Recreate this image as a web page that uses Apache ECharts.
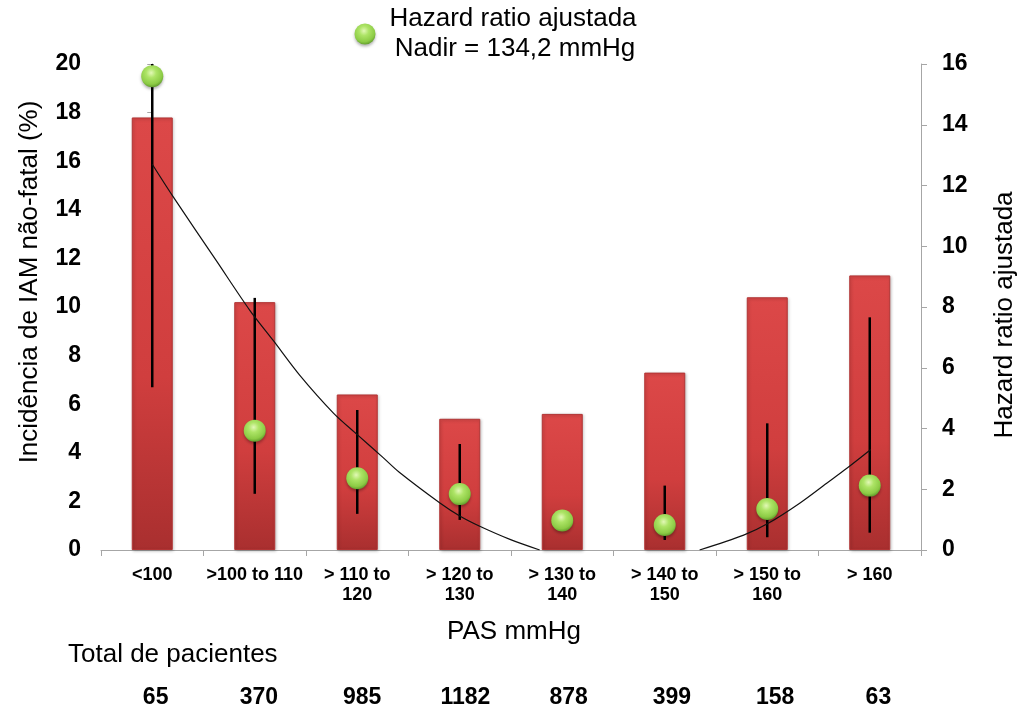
<!DOCTYPE html>
<html>
<head>
<meta charset="utf-8">
<script src="https://cdn.jsdelivr.net/npm/echarts@6/dist/echarts.min.js"></script>
<style>
  html, body { margin: 0; padding: 0; background: #ffffff; }
  #chart { width: 1020px; height: 713px; }
</style>
</head>
<body>
<div id="chart"></div>
<script>
// Systolic pressure groups (PAS mmHg)
const categories = ['<100', '>100 to 110', '> 110 to\n120', '> 120 to\n130', '> 130 to\n140', '> 140 to\n150', '> 150 to\n160', '> 160'];
// Non-fatal MI incidence (%), left axis
const incidence = [17.8, 10.2, 6.4, 5.4, 5.6, 7.3, 10.4, 11.3];
// Adjusted hazard ratio with its confidence limits, right axis
const hazardRatio = [15.6, 3.93, 2.36, 1.84, 0.97, 0.82, 1.35, 2.12];
const ciLower = [5.36, 1.85, 1.19, 0.99, null, 0.33, 0.42, 0.57];
const ciUpper = [16.0, 8.3, 4.61, 3.49, null, 2.12, 4.17, 7.66];
// Patients per group
const patients = [65, 370, 985, 1182, 878, 399, 158, 63];
// Fitted hazard-ratio trend (group position, HR); the part below 0 is not shown
const trendLeftPos = [0, 0.2, 0.63, 0.95, 1.18, 1.44, 1.77, 2.0, 2.25, 2.41, 2.81, 3.0, 3.19, 3.49, 3.78];
const trendLeftHR = [12.7, 11.65, 9.5, 7.9, 6.9, 5.75, 4.5, 3.8, 3.05, 2.56, 1.54, 1.12, 0.79, 0.35, 0];
const trendRightPos = [5.34, 5.77, 6.01, 6.32, 6.58, 6.78, 7.01];
const trendRightHR = [0, 0.49, 0.88, 1.55, 2.2, 2.7, 3.31];

const FONT = '"Liberation Sans", Arial, sans-serif';
const axisGrey = '#a6a6a6';

function greenBall() {
  return {
    type: 'radial', x: 0.45, y: 0.35, r: 0.65,
    colorStops: [
      { offset: 0, color: '#e2f8b6' },
      { offset: 0.35, color: '#ade466' },
      { offset: 0.8, color: '#8ccb45' },
      { offset: 1, color: '#649f2e' }
    ]
  };
}

const chart = echarts.init(document.getElementById('chart'), null, { renderer: 'canvas' });

chart.setOption({
  animation: false,
  backgroundColor: '#ffffff',
  textStyle: { fontFamily: FONT },
  grid: [
    { left: 101, right: 99, top: 64, bottom: 163 },
    { left: 104, right: 90, top: 600, bottom: 27 }
  ],
  xAxis: [
    {
      type: 'category', gridIndex: 0, data: categories,
      axisLine: { lineStyle: { color: axisGrey, width: 1 } },
      axisTick: { show: true, length: 6, lineStyle: { color: axisGrey } },
      axisLabel: {
        interval: 0, margin: 15, color: '#000', fontWeight: 'bold',
        fontSize: 18, lineHeight: 20, fontFamily: FONT
      },
      splitLine: { show: false }
    },
    {
      type: 'value', gridIndex: 0, min: -0.5, max: 7.5, show: false
    },
    {
      type: 'category', gridIndex: 1, data: patients.map(String),
      axisLine: { show: false }, axisTick: { show: false },
      axisLabel: {
        interval: 0, margin: 0, color: '#000', fontWeight: 'bold', fontSize: 23,
        fontFamily: FONT
      }
    }
  ],
  yAxis: [
    {
      type: 'value', gridIndex: 0, min: 0, max: 20, interval: 2,
      axisLine: { show: true, lineStyle: { color: axisGrey, width: 1 } },
      axisTick: { show: true, length: 5, lineStyle: { color: axisGrey } },
      axisLabel: { color: '#000', fontWeight: 'bold', fontSize: 23, margin: 20, fontFamily: FONT },
      splitLine: { show: false }
    },
    {
      type: 'value', gridIndex: 0, min: 0, max: 16, interval: 2, position: 'right',
      axisLine: { show: true, lineStyle: { color: axisGrey, width: 1 } },
      axisTick: { show: true, length: 6, lineStyle: { color: axisGrey } },
      axisLabel: { color: '#000', fontWeight: 'bold', fontSize: 23, margin: 21, fontFamily: FONT },
      splitLine: { show: false }
    },
    { type: 'value', gridIndex: 1, show: false }
  ],
  series: [
    {
      name: 'Incidência',
      type: 'bar', xAxisIndex: 0, yAxisIndex: 0, z: 2,
      barWidth: 41,
      data: incidence,
      itemStyle: {
        color: {
          type: 'linear', x: 0, y: 0, x2: 0, y2: 1,
          colorStops: [
            { offset: 0, color: '#dc4848' },
            { offset: 0.6, color: '#d03e3e' },
            { offset: 1, color: '#a92f2f' }
          ]
        },
        borderColor: '#b23434', borderWidth: 1,
        shadowColor: 'rgba(0,0,0,0.25)', shadowBlur: 3, shadowOffsetX: 1, shadowOffsetY: 1
      }
    },
    {
      name: 'IC',
      type: 'custom', xAxisIndex: 0, yAxisIndex: 1, z: 3,
      encode: { x: 0, y: [1, 2] },
      data: categories.map((c, i) => [i, ciLower[i], ciUpper[i]]).filter(d => d[1] != null),
      renderItem: function (params, api) {
        const a = api.coord([api.value(0), api.value(1)]);
        const b = api.coord([api.value(0), api.value(2)]);
        return {
          type: 'line',
          shape: { x1: a[0], y1: a[1], x2: b[0], y2: b[1] },
          style: { stroke: '#000', lineWidth: 2.5 }
        };
      }
    },
    {
      name: 'Tendência',
      type: 'line', xAxisIndex: 1, yAxisIndex: 1, z: 4,
      data: trendLeftPos.map((p, i) => [p, trendLeftHR[i]]),
      smooth: 0.3, showSymbol: false, clip: true,
      lineStyle: { color: '#111', width: 1.2 }
    },
    {
      name: 'Tendência',
      type: 'line', xAxisIndex: 1, yAxisIndex: 1, z: 4,
      data: trendRightPos.map((p, i) => [p, trendRightHR[i]]),
      smooth: 0.3, showSymbol: false, clip: true,
      lineStyle: { color: '#111', width: 1.2 }
    },
    {
      name: 'Hazard ratio ajustada',
      type: 'scatter', xAxisIndex: 0, yAxisIndex: 1, z: 5,
      data: hazardRatio,
      symbol: 'circle', symbolSize: 22,
      itemStyle: {
        color: greenBall(), opacity: 1,
        shadowColor: 'rgba(0,0,0,0.3)', shadowBlur: 3, shadowOffsetY: 2
      }
    },
    {
      name: 'Total de pacientes',
      type: 'bar', xAxisIndex: 2, yAxisIndex: 2, data: patients.map(() => 0), silent: true
    }
  ],
  graphic: [
    {
      type: 'circle', x: 365, y: 34, shape: { r: 10.5 },
      style: { fill: greenBall(), shadowColor: 'rgba(0,0,0,0.3)', shadowBlur: 3, shadowOffsetY: 2 }
    },
    {
      type: 'text', x: 513, y: 19,
      style: { text: 'Hazard ratio ajustada', font: '26px ' + FONT, fill: '#000', align: 'center', verticalAlign: 'middle' }
    },
    {
      type: 'text', x: 515, y: 49,
      style: { text: 'Nadir = 134,2 mmHg', font: '26px ' + FONT, fill: '#000', align: 'center', verticalAlign: 'middle' }
    },
    {
      type: 'text', x: 30, y: 282, rotation: Math.PI / 2,
      style: { text: 'Incidência de IAM não-fatal (%)', font: '26px ' + FONT, fill: '#000', align: 'center', verticalAlign: 'middle' }
    },
    {
      type: 'text', x: 1005, y: 315, rotation: Math.PI / 2,
      style: { text: 'Hazard ratio ajustada', font: '26px ' + FONT, fill: '#000', align: 'center', verticalAlign: 'middle' }
    },
    {
      type: 'text', x: 514, y: 632,
      style: { text: 'PAS mmHg', font: '26px ' + FONT, fill: '#000', align: 'center', verticalAlign: 'middle' }
    },
    {
      type: 'text', x: 68, y: 655,
      style: { text: 'Total de pacientes', font: '26px ' + FONT, fill: '#000', align: 'left', verticalAlign: 'middle' }
    }
  ]
});
</script>
</body>
</html>
